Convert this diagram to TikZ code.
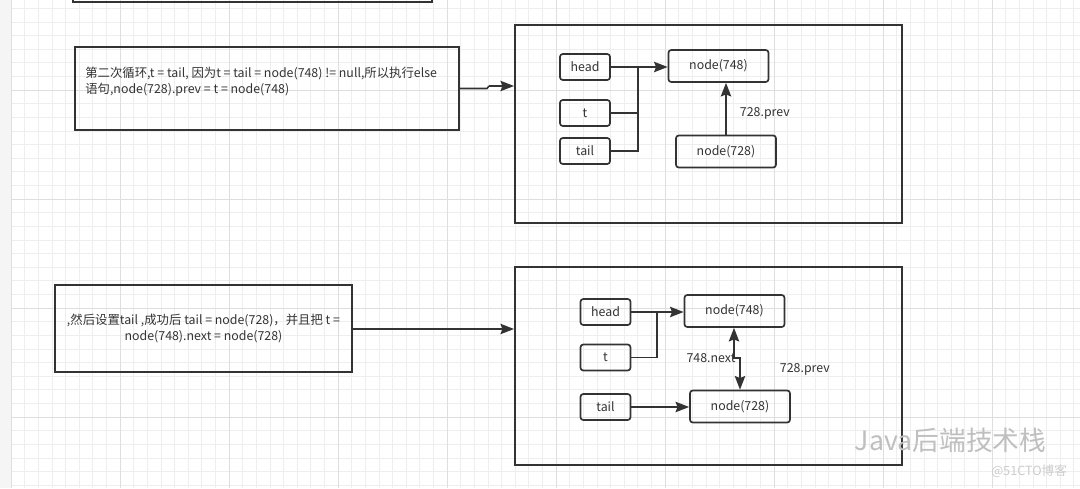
\documentclass[tikz,border=0pt]{standalone}
\usepackage{fontspec}
\setmainfont{Noto Sans CJK SC}
\usetikzlibrary{arrows.meta}
\definecolor{ink}{HTML}{333333}
\definecolor{gridminor}{HTML}{EEEEEE}
\definecolor{gridmajor}{HTML}{DEDEDE}
\tikzset{
  box/.style={draw=ink, line width=1.2pt, rounded corners=2pt, inner sep=0pt, minimum width=1.25cm, minimum height=0.65cm},
  obj/.style={box, minimum width=2.5cm, minimum height=0.8cm},
  frame/.style={draw=ink, line width=1.3pt, inner sep=0pt, minimum width=9.675cm, minimum height=4.95cm},
  note/.style={draw=ink, line width=1.3pt, inner sep=0pt},
  link/.style={draw=ink, line width=1.1pt},
}
\begin{document}
\begin{tikzpicture}[x=0.025cm, y=-0.025cm, font=\fontsize{8.8}{11.5}\selectfont, >={Stealth[length=3.4mm,width=2.6mm,inset=0.5mm]}, text=ink]
\useasboundingbox (0,0) rectangle (1080,488);
\clip (0,0) rectangle (1080,488);
% background grid
\fill[white] (0,0) rectangle (1080,488);
\fill[gray!8] (0,0) rectangle (11,488);
\foreach \i in {0,...,78}
\draw[gridminor, line width=0.5pt] ({11+\i*13.625},0) -- ++(0,488);
\foreach \i in {0,...,37}
\draw[gridminor, line width=0.5pt] (11,{-19+\i*13.625}) -- (1080,{-19+\i*13.625});
\foreach \i in {0,...,9}
\draw[gridmajor, line width=0.6pt] ({11+\i*109},0) -- ++(0,488);
\foreach \i in {0,...,5}
\draw[gridmajor, line width=0.6pt] (11,{-19+\i*109}) -- (1080,{-19+\i*109});
% box cut off at the top
\draw[ink, line width=1.3pt] (73,-20) rectangle (432,2);
% second loop
\node[note, minimum width=9.6cm, minimum height=2.075cm] (b1) at (267,88.5) {};
\node[anchor=north west, align=left, inner sep=0pt] (b1text) at (85,67) {第二次循环,t = tail, 因为t = tail = node(748) != null,所以执行else\\语句,node(728).prev = t = node(748)};
\node[frame] (f1) at (708.5,124) {};
\node[box] (h1) at (585,67) {head};
\node[box] (t1) at (585,113) {t};
\node[box] (tl1) at (585,151) {tail};
\node[obj] (n748a) at (718.5,66) {node(748)};
\node[obj] (n728a) at (726,151.5) {node(728)};
\coordinate (j1) at (638,67);
\coordinate (e1) at (489,86);
\draw[link] (b1.east) -- (487,88.5) -- (e1);
\draw[link,->] (e1) -- (e1 -| f1.west);
\draw[link,->] (h1.east) -- (h1.east -| n748a.west);
\draw[link] (t1.east) -| (j1);
\draw[link] (tl1.east) -| (j1);
\draw[link,->] (n728a.north) -- (n728a.north |- n748a.south);
\node[anchor=west] (p1) at (735,113) {728.prev};
% then set tail
\node[note, minimum width=7.425cm, minimum height=2.175cm, align=center] (b2) at (203.5,328.5) {,然后设置tail ,成功后 tail = node(728)，并且把 t =\\node(748).next = node(728)};
\node[frame] (f2) at (708.5,366) {};
\node[box] (h2) at (605.5,312) {head};
\node[box] (t2) at (605.5,357.5) {t};
\node[box] (tl2) at (605.5,407) {tail};
\node[obj] (n748b) at (734.5,311) {node(748)};
\node[obj] (n728b) at (740,406.5) {node(728)};
\coordinate (j2) at (657,312);
\coordinate (k1) at (734,358);
\coordinate (k2) at (740,358);
\draw[link,->] (b2.east |- 0,329) -- (f2.west |- 0,329);
\draw[link,->] (h2.east) -- (h2.east -| n748b.west);
\draw[link] (t2.east) -| (j2);
\draw[link,->] (tl2.east) -- (tl2.east -| n728b.west);
\draw[link,<->] (k1 |- n748b.south) -- (k1) -- (k2) -- (k2 |- n728b.north);
\node (nx2) at (711,358) {748.next};
\node[anchor=west] (p2) at (775,369) {728.prev};
% watermark
\node[anchor=west, text=gray!50, font=\fontsize{19}{20}\selectfont] (wm) at (850,440) {Java后端技术栈};
\node[anchor=east, text=gray!40, font=\fontsize{9}{10}\selectfont] (wm2) at (1072,471) {@51CTO博客};
\end{tikzpicture}
\end{document}
